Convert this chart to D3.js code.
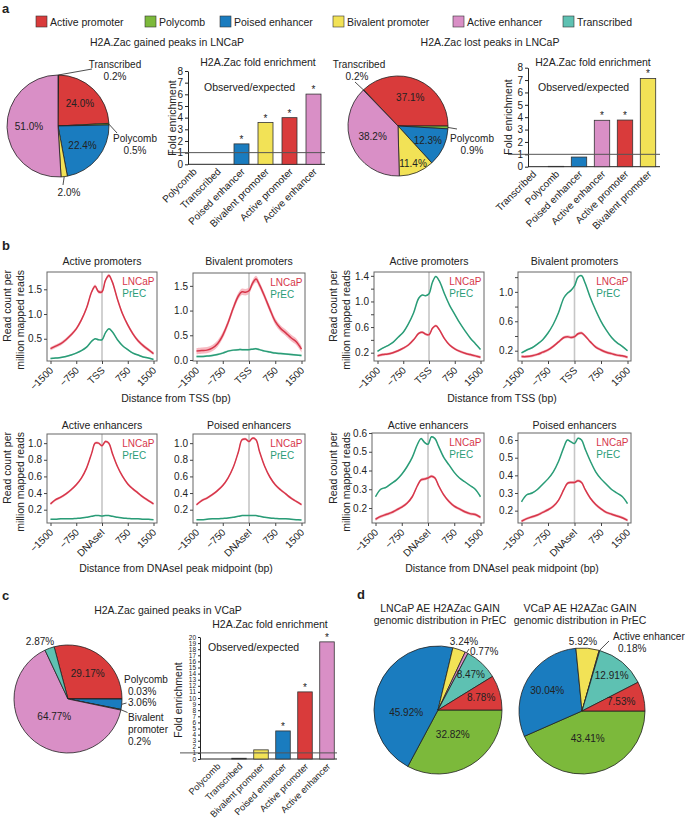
<!DOCTYPE html>
<html>
<head>
<meta charset="utf-8">
<script src="https://cdn.jsdelivr.net/npm/d3@7"></script>
<style>
  body { margin: 0; background: #fff; }
  svg text { font-family: "Liberation Sans", Arial, Helvetica, sans-serif; fill: #222; }
</style>
</head>
<body>
<svg id="fig" width="685" height="822"></svg>
<script>
/* DATA */
const states = ["Active promoter", "Polycomb", "Poised enhancer", "Bivalent promoter", "Active enhancer", "Transcribed"];
const stateColors = ["#d93b3b", "#7cb93b", "#1a7cbf", "#f2e256", "#d98fc6", "#5ec1b2"];

// pies (percent of peaks)
const gainLNCaPNames = ["Transcribed", "Active promoter", "Polycomb", "Poised enhancer", "Bivalent promoter", "Active enhancer"];
const gainLNCaPPct = [0.2, 24.0, 0.5, 22.4, 2.0, 51.0];
const lostLNCaPNames = ["Transcribed", "Active promoter", "Polycomb", "Poised enhancer", "Bivalent promoter", "Active enhancer"];
const lostLNCaPPct = [0.2, 37.1, 0.9, 12.3, 11.4, 38.2];
const gainVCaPNames = ["Active promoter", "Polycomb", "Poised enhancer", "Bivalent promoter", "Active enhancer", "Transcribed"];
const gainVCaPPct = [29.17, 0.03, 3.06, 0.2, 64.77, 2.87];
const precNames = ["Polycomb", "Poised enhancer", "Bivalent promoter", "Active enhancer", "Transcribed", "Active promoter"];
const lncapAEPct = [32.82, 45.92, 3.24, 0.77, 8.47, 8.78];
const vcapAEPct = [43.41, 30.04, 5.92, 0.18, 12.91, 7.53];

// fold enrichment bars
const gainBarCats = ["Polycomb", "Transcribed", "Poised enhancer", "Bivalent promoter", "Active promoter", "Active enhancer"];
const gainBarVals = [0, 0, 1.75, 3.58, 4.0, 6.02];
const gainBarStar = [false, false, true, true, true, true];
const lostBarCats = ["Transcribed", "Polycomb", "Poised enhancer", "Active enhancer", "Active promoter", "Bivalent promoter"];
const lostBarVals = [0, 0.03, 0.78, 3.75, 3.77, 7.13];
const lostBarStar = [false, false, false, true, true, true];
const vcapBarCats = ["Polycomb", "Transcribed", "Bivalent promoter", "Poised enhancer", "Active promoter", "Active enhancer"];
const vcapBarVals = [0, 0.12, 1.5, 4.6, 11.0, 19.2];
const vcapBarStar = [false, false, false, true, true, true];

// read count profiles (bp from centre)
const pos = [-1500, -1350, -1200, -1050, -900, -750, -600, -450, -300, -200, -100, 0, 100, 200, 300, 450, 600, 750, 900, 1050, 1200, 1350, 1500];
const xTicks = [-1500, -750, 0, 750, 1500];

const gainAP_LNCaP = [0.30, 0.35, 0.40, 0.48, 0.58, 0.70, 0.88, 1.12, 1.45, 1.56, 1.45, 1.45, 1.68, 1.78, 1.65, 1.30, 1.00, 0.78, 0.60, 0.46, 0.36, 0.28, 0.20];
const gainAP_PrEC  = [0.10, 0.11, 0.12, 0.14, 0.17, 0.21, 0.26, 0.33, 0.45, 0.50, 0.48, 0.48, 0.62, 0.70, 0.64, 0.48, 0.36, 0.28, 0.21, 0.17, 0.13, 0.11, 0.08];
const gainBP_LNCaP = [0.18, 0.19, 0.20, 0.24, 0.33, 0.50, 0.75, 1.05, 1.30, 1.38, 1.37, 1.40, 1.55, 1.64, 1.52, 1.28, 1.02, 0.78, 0.64, 0.55, 0.45, 0.37, 0.22];
const gainBP_PrEC  = [0.07, 0.07, 0.08, 0.09, 0.11, 0.14, 0.18, 0.20, 0.21, 0.21, 0.21, 0.21, 0.22, 0.23, 0.21, 0.18, 0.16, 0.14, 0.13, 0.12, 0.11, 0.10, 0.09];
const lostAP_LNCaP = [0.15, 0.17, 0.18, 0.20, 0.23, 0.27, 0.32, 0.40, 0.50, 0.52, 0.49, 0.48, 0.58, 0.62, 0.56, 0.42, 0.32, 0.26, 0.22, 0.19, 0.17, 0.15, 0.13];
const lostAP_PrEC  = [0.22, 0.27, 0.31, 0.36, 0.44, 0.52, 0.65, 0.82, 1.05, 1.10, 1.09, 1.12, 1.30, 1.39, 1.32, 1.12, 0.94, 0.80, 0.66, 0.54, 0.43, 0.34, 0.25];
const lostBP_LNCaP = [0.12, 0.12, 0.13, 0.15, 0.18, 0.21, 0.26, 0.32, 0.38, 0.39, 0.38, 0.39, 0.43, 0.44, 0.40, 0.32, 0.25, 0.21, 0.18, 0.16, 0.14, 0.13, 0.11];
const lostBP_PrEC  = [0.17, 0.21, 0.24, 0.29, 0.35, 0.44, 0.56, 0.72, 0.92, 0.98, 1.02, 1.08, 1.20, 1.22, 1.12, 0.92, 0.75, 0.60, 0.48, 0.38, 0.31, 0.26, 0.20];
const gainAE_LNCaP = [0.27, 0.32, 0.35, 0.39, 0.44, 0.50, 0.58, 0.70, 0.88, 1.00, 1.00, 0.97, 1.02, 1.00, 0.88, 0.72, 0.60, 0.51, 0.45, 0.40, 0.35, 0.31, 0.27];
const gainAE_PrEC  = [0.085, 0.085, 0.09, 0.09, 0.09, 0.095, 0.10, 0.11, 0.12, 0.13, 0.13, 0.125, 0.13, 0.13, 0.12, 0.11, 0.10, 0.095, 0.09, 0.09, 0.085, 0.085, 0.08];
const gainPE_LNCaP = [0.26, 0.31, 0.34, 0.38, 0.43, 0.49, 0.58, 0.71, 0.90, 1.04, 1.05, 1.02, 1.06, 1.04, 0.90, 0.72, 0.59, 0.50, 0.44, 0.39, 0.34, 0.30, 0.26];
const gainPE_PrEC  = [0.08, 0.08, 0.085, 0.09, 0.09, 0.095, 0.10, 0.11, 0.12, 0.13, 0.13, 0.13, 0.13, 0.13, 0.12, 0.11, 0.10, 0.095, 0.09, 0.09, 0.085, 0.08, 0.075];
const lostAE_LNCaP = [0.14, 0.155, 0.165, 0.175, 0.19, 0.205, 0.225, 0.26, 0.32, 0.35, 0.355, 0.36, 0.37, 0.36, 0.32, 0.27, 0.235, 0.21, 0.195, 0.18, 0.17, 0.165, 0.15];
const lostAE_PrEC  = [0.26, 0.30, 0.31, 0.33, 0.35, 0.38, 0.42, 0.47, 0.54, 0.57, 0.55, 0.54, 0.58, 0.57, 0.53, 0.47, 0.43, 0.39, 0.36, 0.34, 0.32, 0.30, 0.26];
const lostPE_LNCaP = [0.14, 0.155, 0.165, 0.175, 0.19, 0.205, 0.225, 0.26, 0.32, 0.355, 0.36, 0.36, 0.37, 0.36, 0.32, 0.27, 0.235, 0.21, 0.19, 0.18, 0.17, 0.16, 0.145];
const lostPE_PrEC  = [0.25, 0.29, 0.30, 0.32, 0.35, 0.38, 0.42, 0.48, 0.56, 0.60, 0.59, 0.58, 0.61, 0.60, 0.55, 0.48, 0.42, 0.38, 0.35, 0.32, 0.30, 0.28, 0.24];

/* SETUP */
const svg = d3.select("#fig");
const color = d3.scaleOrdinal(states, stateColors);
const RED = "#d6364a", GREEN = "#2a9c77";

function label(x, y, s, size = 10, anchor = "start", weight = null) {
  return svg.append("text").attr("x", x).attr("y", y).attr("font-size", size)
    .attr("text-anchor", anchor).attr("font-weight", weight).text(s);
}

// panel letters
label(2, 13, "a", 13, "start", "bold");
label(2, 250, "b", 13, "start", "bold");
label(2, 600, "c", 13, "start", "bold");
label(357, 599, "d", 13, "start", "bold");

// legend
const legendX = [36, 145, 220, 333, 453, 563];
const legend = svg.append("g").selectAll("g").data(states).join("g")
  .attr("transform", (d, i) => `translate(${legendX[i]},16)`);
legend.append("rect").attr("width", 11).attr("height", 11)
  .attr("fill", d => color(d)).attr("stroke", "#333").attr("stroke-width", 0.6);
legend.append("text").attr("x", 14).attr("y", 9.5).attr("font-size", 10.5).text(d => d);

/* PIES */
function drawPie(o) {
  const g = svg.append("g").attr("transform", `translate(${o.cx},${o.cy})`);
  const a0 = o.start * Math.PI / 180;
  const arcs = d3.pie().sort(null).value(d => d)
    .startAngle(a0).endAngle(a0 + 2 * Math.PI)(o.values);
  const arc = d3.arc().innerRadius(0).outerRadius(o.r);
  g.selectAll("path").data(arcs).join("path")
    .attr("d", arc)
    .attr("fill", (d, i) => color(o.names[i]))
    .attr("stroke", "#222").attr("stroke-width", 0.8).attr("stroke-linejoin", "round");

  arcs.forEach((d, i) => {
    const L = o.labels[i];
    if (!L) return;
    const mid = L.a != null ? L.a * Math.PI / 180 : (d.startAngle + d.endAngle) / 2;
    const pct = o.values[i].toFixed(L.digits != null ? L.digits : o.digits) + "%";
    if (L.k) {
      g.append("text")
        .attr("x", Math.sin(mid) * o.r * L.k)
        .attr("y", -Math.cos(mid) * o.r * L.k)
        .attr("dy", "0.35em").attr("text-anchor", "middle").attr("font-size", 10)
        .text(pct);
      return;
    }
    if (L.lead) {
      g.append("line")
        .attr("x1", Math.sin(mid) * o.r).attr("y1", -Math.cos(mid) * o.r)
        .attr("x2", L.lead[0]).attr("y2", L.lead[1])
        .attr("stroke", "#222").attr("stroke-width", 0.8);
    }
    const lines = (L.text || []).concat([pct]);
    lines.forEach((s, j) => {
      g.append("text")
        .attr("x", L.x + (L.xs ? L.xs[j] : 0)).attr("y", L.y + j * 12)
        .attr("text-anchor", L.anchor || "middle").attr("font-size", 10)
        .text(s);
    });
  });
}

drawPie({
  cx: 58, cy: 126, r: 51, start: 0, digits: 1,
  names: gainLNCaPNames, values: gainLNCaPPct,
  labels: [
    { text: ["Transcribed"], x: 57, y: -58, lead: [34, -57] },
    { k: 0.62 },
    { text: ["Polycomb"], x: 77, y: 16, lead: [59, 7] },
    { k: 0.62 },
    { x: 11, y: 69.5, lead: [5, 59] },
    { k: 0.57 }
  ]
});

drawPie({
  cx: 398, cy: 126, r: 50, start: -44.1, digits: 1,
  names: lostLNCaPNames, values: lostLNCaPPct,
  labels: [
    { text: ["Transcribed"], x: -40, y: -58.5, xs: [1, -1], lead: [-43, -44] },
    { k: 0.62 },
    { text: ["Polycomb"], x: 74, y: 15.5, lead: [59, 3] },
    { k: 0.66 },
    { k: 0.8 },
    { k: 0.55 }
  ]
});

drawPie({
  cx: 68, cy: 699, r: 54, start: -14.9, digits: 2,
  names: gainVCaPNames, values: gainVCaPPct,
  labels: [
    { k: 0.6 },
    { text: ["Polycomb"], x: 56, y: -16.5, anchor: "start", xs: [0, 4] },
    { x: 60, y: 6.5, anchor: "start", lead: [58.5, 4] },
    { text: ["Bivalent", "promoter"], x: 60, y: 21.5, anchor: "start", digits: 1, lead: [59.5, 13.5] },
    { k: 0.41 },
    { x: -28, y: -54.5 }
  ]
});

drawPie({
  cx: 438, cy: 710, r: 64, start: 90, digits: 2,
  names: precNames, values: lncapAEPct,
  labels: [
    { k: 0.45 },
    { k: 0.5, a: 265 },
    { x: 26, y: -65.5 },
    { x: 32, y: -55.5, anchor: "start", lead: [31, -61] },
    { k: 0.75 },
    { k: 0.7 }
  ]
});

drawPie({
  cx: 582, cy: 711, r: 63, start: 90, digits: 2,
  names: precNames, values: vcapAEPct,
  labels: [
    { k: 0.44 },
    { k: 0.64 },
    { x: 1, y: -66.5 },
    { text: ["Active enhancer"], x: 31, y: -71.5, anchor: "start", xs: [0, 5], lead: [27, -70] },
    { k: 0.74 },
    { k: 0.64 }
  ]
});

label(167, 45.5, "H2A.Zac gained peaks in LNCaP", 10.5, "middle");
label(490, 45.5, "H2A.Zac lost peaks in LNCaP", 10.5, "middle");
label(168, 613.5, "H2A.Zac gained peaks in VCaP", 10.5, "middle");
label(440, 611.5, "LNCaP AE H2AZac GAIN", 10.5, "middle");
label(440, 623.5, "genomic distribution in PrEC", 10.5, "middle");
label(580, 611.5, "VCaP AE H2AZac GAIN", 10.5, "middle");
label(580, 623.5, "genomic distribution in PrEC", 10.5, "middle");

/* BARS */
function drawBars(o) {
  const g = svg.append("g");
  const x = d3.scaleBand().domain(o.cats).range(o.band)
    .paddingInner(o.pad).paddingOuter(o.pad / 2);
  const y = d3.scaleLinear().domain([0, o.max]).range(o.yr);

  const ya = g.append("g").attr("transform", `translate(${o.ax},0)`)
    .call(d3.axisLeft(y).tickValues(d3.range(0, o.max + 1)).tickSize(o.tick).tickSizeOuter(0).tickPadding(2));
  ya.attr("font-family", null).attr("font-size", o.tickFont);
  ya.selectAll("line, path").attr("stroke", "#222");

  g.append("line").attr("x1", o.ax).attr("x2", o.axEnd)
    .attr("y1", y(0)).attr("y2", y(0)).attr("stroke", "#222");

  g.selectAll("rect").data(o.vals).join("rect")
    .attr("x", (d, i) => x(o.cats[i]))
    .attr("width", x.bandwidth())
    .attr("y", d => y(d))
    .attr("height", d => y(0) - y(d))
    .attr("fill", (d, i) => color(o.cats[i]))
    .attr("stroke", "#333").attr("stroke-width", d => d > 0 ? 0.8 : 0);

  g.append("line").attr("x1", o.ax - 20).attr("x2", o.axEnd)
    .attr("y1", y(1)).attr("y2", y(1)).attr("stroke", "#555").attr("stroke-width", 1);

  g.selectAll(".star").data(o.vals).join("text")
    .attr("class", "star")
    .attr("x", (d, i) => x(o.cats[i]) + x.bandwidth() / 2)
    .attr("y", d => y(d) - 1)
    .attr("text-anchor", "middle").attr("font-size", 10)
    .text((d, i) => o.stars[i] ? "*" : "");

  g.selectAll(".cat").data(o.cats).join("text")
    .attr("class", "cat")
    .attr("text-anchor", "end").attr("font-size", o.catFont)
    .attr("transform", d => `translate(${x(d) + x.bandwidth() / 2 + 4},${y(0) + 8}) rotate(-45)`)
    .text(d => d);

  label(o.titleX, o.titleY, "H2A.Zac fold enrichment", 10.5, "middle");
  label(o.obsX, o.obsY, "Observed/expected", 10.5, "start");
  g.append("text").attr("font-size", 10.5).attr("text-anchor", "middle")
    .attr("transform", `translate(${o.labX},${o.labY}) rotate(-90)`)
    .text("Fold enrichment");
}

drawBars({
  cats: gainBarCats, vals: gainBarVals, stars: gainBarStar,
  band: [181.5, 325.5], pad: 0.375, ax: 188, axEnd: 325, max: 8, yr: [164.3, 71],
  tick: 3, tickFont: 10, catFont: 10,
  titleX: 258, titleY: 65.5, obsX: 204, obsY: 90.5, labX: 175.5, labY: 118
});

drawBars({
  cats: lostBarCats, vals: lostBarVals, stars: lostBarStar,
  band: [521.5, 659.5], pad: 0.33, ax: 528, axEnd: 660, max: 8, yr: [166.7, 67.7],
  tick: 3, tickFont: 10, catFont: 10,
  titleX: 593, titleY: 65.5, obsX: 538, obsY: 90.5, labX: 511.5, labY: 117
});

drawBars({
  cats: vcapBarCats, vals: vcapBarVals, stars: vcapBarStar,
  band: [206, 338], pad: 0.34, ax: 200, axEnd: 337, max: 20, yr: [759, 637],
  tick: 2, tickFont: 6.5, catFont: 9.2,
  titleX: 270, titleY: 627.5, obsX: 208, obsY: 650.5, labX: 181.5, labY: 700
});

/* PROFILES */
function drawProfile(o) {
  const g = svg.append("g");
  const [x0, x1, y0, y1] = o.box;
  const x = d3.scaleLinear().domain([-1500, 1500]).range([x0 + 3.5, x1 - 3.5]);
  const y = d3.scaleLinear().domain(o.yDom).range([y1, y0]);
  const clipId = "clip" + Math.round(x0) + "_" + Math.round(y0);
  g.append("clipPath").attr("id", clipId).append("rect")
    .attr("x", x0).attr("y", y0).attr("width", x1 - x0).attr("height", y1 - y0);
  const inner = g.append("g").attr("clip-path", `url(#${clipId})`);

  inner.append("line").attr("x1", x(0)).attr("x2", x(0)).attr("y1", y0).attr("y2", y1)
    .attr("stroke", "#c6c6c6").attr("stroke-width", 1.6);

  const series = [
    { v: o.p, c: GREEN, fill: "#a8dcc9", band: o.pBand },
    { v: o.l, c: RED, fill: "#f4a3ae", band: o.lBand }
  ];
  series.forEach(s => {
    const area = d3.area().x((d, i) => x(pos[i]))
      .y0(d => y(d - s.band)).y1(d => y(d + s.band))
      .curve(d3.curveCatmullRom.alpha(0.5));
    inner.append("path").attr("d", area(s.v)).attr("fill", s.fill).attr("opacity", 0.75);
    const line = d3.line().x((d, i) => x(pos[i])).y(d => y(d))
      .curve(d3.curveCatmullRom.alpha(0.5));
    inner.append("path").attr("d", line(s.v)).attr("fill", "none")
      .attr("stroke", s.c).attr("stroke-width", 1.5);
  });

  g.append("rect").attr("x", x0).attr("y", y0).attr("width", x1 - x0).attr("height", y1 - y0)
    .attr("fill", "none").attr("stroke", "#666").attr("stroke-width", 1);

  const ya = g.append("g").attr("transform", `translate(${x0},0)`)
    .call(d3.axisLeft(y).tickValues(o.ticks).tickSize(3).tickPadding(2)
      .tickFormat(d => o.labs.includes(d) ? d.toFixed(1) : ""));
  ya.attr("font-family", null).attr("font-size", 10);
  ya.select(".domain").remove();
  ya.selectAll("line").attr("stroke", "#444");

  const xa = g.append("g").attr("transform", `translate(0,${y1})`)
    .call(d3.axisBottom(x).tickValues(xTicks).tickSize(3)
      .tickFormat(d => d === 0 ? o.mid : (d < 0 ? "\u2212" + (-d) : String(d))));
  xa.attr("font-family", null).attr("font-size", 10);
  xa.select(".domain").remove();
  xa.selectAll("line").attr("stroke", "#444");
  xa.selectAll("text").attr("x", 0).attr("y", 0).attr("dy", 0)
    .attr("text-anchor", "end").attr("transform", "translate(3,10) rotate(-45)");

  const ln = g.append("text").attr("x", x1 - 2.5).attr("y", y0 + 12.5).attr("font-size", 10)
    .attr("text-anchor", "end").style("fill", RED).text("LNCaP");
  const w = ln.node().getComputedTextLength();
  g.append("text").attr("x", x1 - 2.5 - w).attr("y", y0 + 24.5).attr("font-size", 10)
    .style("fill", GREEN).text("PrEC");
  label((x0 + x1) / 2, o.titleY, o.title, 10.5, "middle");
}

const tss = "TSS", dnase = "DNAseI";
const profiles = [
  { title: "Active promoters", box: [47, 157, 272, 361], yDom: [0.05, 1.85], ticks: [0.5, 1.0, 1.5], labs: [0.5, 1.0, 1.5],
    l: gainAP_LNCaP, p: gainAP_PrEC, lBand: 0.035, pBand: 0.015, mid: tss, titleY: 264.5 },
  { title: "Bivalent promoters", box: [193, 305, 273, 361], yDom: [-0.02, 1.76], ticks: [0, 0.5, 1.0, 1.5], labs: [0, 0.5, 1.0, 1.5],
    l: gainBP_LNCaP, p: gainBP_PrEC, lBand: 0.065, pBand: 0.02, mid: tss, titleY: 264.5 },
  { title: "Active promoters", box: [374, 484, 272, 361], yDom: [0.07, 1.46], ticks: [0.2, 0.4, 0.6, 0.8, 1.0, 1.2, 1.4], labs: [0.2, 0.6, 1.0, 1.4],
    l: lostAP_LNCaP, p: lostAP_PrEC, lBand: 0.02, pBand: 0.01, mid: tss, titleY: 264.5 },
  { title: "Bivalent promoters", box: [518, 631, 272, 361], yDom: [0.06, 1.27], ticks: [0.2, 0.4, 0.6, 0.8, 1.0, 1.2], labs: [0.2, 0.6, 1.0],
    l: lostBP_LNCaP, p: lostBP_PrEC, lBand: 0.02, pBand: 0.01, mid: tss, titleY: 264.5 },
  { title: "Active enhancers", box: [47, 157, 434, 523], yDom: [0.04, 1.11], ticks: [0.2, 0.4, 0.6, 0.8, 1.0], labs: [0.2, 0.4, 0.6, 0.8, 1.0],
    l: gainAE_LNCaP, p: gainAE_PrEC, lBand: 0.015, pBand: 0.006, mid: dnase, titleY: 428.5 },
  { title: "Poised enhancers", box: [193, 305, 434, 523], yDom: [0.04, 1.11], ticks: [0.2, 0.4, 0.6, 0.8, 1.0], labs: [0.2, 0.4, 0.6, 0.8, 1.0],
    l: gainPE_LNCaP, p: gainPE_PrEC, lBand: 0.015, pBand: 0.006, mid: dnase, titleY: 428.5 },
  { title: "Active enhancers", box: [372, 484, 433, 523], yDom: [0.12, 0.60], ticks: [0.2, 0.3, 0.4, 0.5, 0.6], labs: [0.2, 0.3, 0.4, 0.5, 0.6],
    l: lostAE_LNCaP, p: lostAE_PrEC, lBand: 0.008, pBand: 0.004, mid: dnase, titleY: 428.5 },
  { title: "Poised enhancers", box: [518, 631, 433, 523], yDom: [0.13, 0.64], ticks: [0.2, 0.3, 0.4, 0.5, 0.6], labs: [0.2, 0.3, 0.4, 0.5, 0.6],
    l: lostPE_LNCaP, p: lostPE_PrEC, lBand: 0.008, pBand: 0.004, mid: dnase, titleY: 428.5 }
];
profiles.forEach(drawProfile);

// shared axis titles
function yTitle(x, yTop) {
  ["Read count per", "million mapped reads"].forEach((s, j) => {
    svg.append("text").attr("font-size", 10.5).attr("text-anchor", "end")
      .attr("transform", `translate(${x + j * 13},${yTop}) rotate(-90)`).text(s);
  });
}
yTitle(11, 270);
yTitle(337, 270);
yTitle(11, 432);
yTitle(337, 432);
label(176, 402, "Distance from TSS (bp)", 10.5, "middle");
label(502, 402, "Distance from TSS (bp)", 10.5, "middle");
label(176, 571.5, "Distance from DNAseI peak midpoint (bp)", 10.5, "middle");
label(502, 571.5, "Distance from DNAseI peak midpoint (bp)", 10.5, "middle");
</script>
</body>
</html>
